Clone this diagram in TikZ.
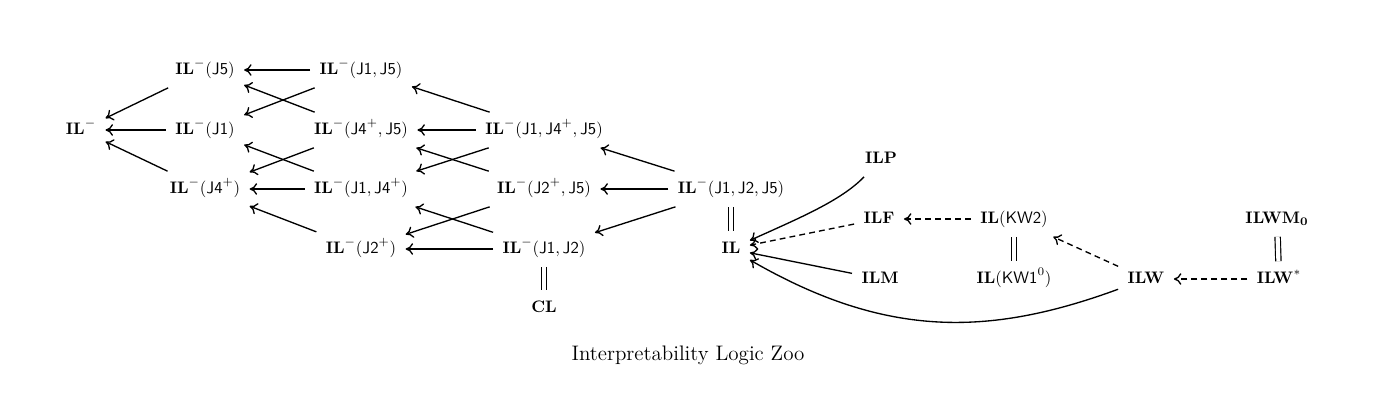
\documentclass[tikz,border=0pt]{standalone}
\usepackage{amsmath}
\usetikzlibrary{arrows.meta}
\begin{document}
\begin{tikzpicture}[x=0.6pt,y=-0.6pt,
  lg/.style={inner sep=5.5pt, text height=7.5pt, text depth=2.5pt},
  imp/.style={-{Computer Modern Rightarrow[length=4.5pt,width=7pt]}, line width=0.8pt},
  dimp/.style={imp, dash pattern=on 3.5pt off 2.5pt},
  eqv/.style={double, double distance=2.5pt, line width=0.7pt}]
\useasboundingbox (0,0) rectangle (1376,408);
% column 0
\node[lg] (m)     at (81,130)  {$\mathbf{IL}^-$};
% column 1
\node[lg] (j5)    at (205,70)  {$\mathbf{IL}^-(\mathsf{J5})$};
\node[lg] (j1)    at (205,130) {$\mathbf{IL}^-(\mathsf{J1})$};
\node[lg] (j4)    at (205,189) {$\mathbf{IL}^-(\mathsf{J4}^+)$};
% column 2
\node[lg] (j15)   at (361,70)  {$\mathbf{IL}^-(\mathsf{J1},\mathsf{J5})$};
\node[lg] (j45)   at (361,130) {$\mathbf{IL}^-(\mathsf{J4}^+,\mathsf{J5})$};
\node[lg] (j14)   at (361,189) {$\mathbf{IL}^-(\mathsf{J1},\mathsf{J4}^+)$};
\node[lg] (j2)    at (361,249) {$\mathbf{IL}^-(\mathsf{J2}^+)$};
% column 3
\node[lg] (j145)  at (544,130) {$\mathbf{IL}^-(\mathsf{J1},\mathsf{J4}^+,\mathsf{J5})$};
\node[lg] (j25)   at (544,189) {$\mathbf{IL}^-(\mathsf{J2}^+,\mathsf{J5})$};
\node[lg] (j12)   at (544,249) {$\mathbf{IL}^-(\mathsf{J1},\mathsf{J2})$};
\node[lg] (cl)    at (544,308) {$\mathbf{CL}$};
% column 4
\node[lg] (j125)  at (731,189) {$\mathbf{IL}^-(\mathsf{J1},\mathsf{J2},\mathsf{J5})$};
\node[lg] (il)    at (731,249) {$\mathbf{IL}$};
% right part
\node[lg] (ilp)   at (881,159) {$\mathbf{ILP}$};
\node[lg] (ilf)   at (879,219) {$\mathbf{ILF}$};
\node[lg] (ilm)   at (880,279) {$\mathbf{ILM}$};
\node[lg] (kw2)   at (1014,219) {$\mathbf{IL}(\mathsf{KW2})$};
\node[lg] (kw1)   at (1014,279) {$\mathbf{IL}(\mathsf{KW1}^0)$};
\node[lg] (ilw)   at (1146,279) {$\mathbf{ILW}$};
\node[lg] (ilws)  at (1279,279) {$\mathbf{ILW}^{*}$};
\node[lg] (ilwm)  at (1277,219) {$\mathbf{ILWM_0}$};
\node (cap) at (688,355) {\fontsize{12.6}{15}\selectfont Interpretability Logic Zoo};
% coordinates for curves
\coordinate (cp1) at (841,201);
\coordinate (cp2) at (797,219);
\coordinate (cw1) at (988,337);
\coordinate (cw2) at (885,338);
% arrows to IL^-
\draw[imp] (j5) -- (m);
\draw[imp] (j1) -- (m);
\draw[imp] (j4) -- (m);
% column 2 -> column 1
\draw[imp] (j15) -- (j5);
\draw[imp] (j15) -- (j1);
\draw[imp] (j45) -- (j5);
\draw[imp] (j45) -- (j4);
\draw[imp] (j14) -- (j1);
\draw[imp] (j14) -- (j4);
\draw[imp] (j2) -- (j4);
% column 3 -> column 2
\draw[imp] (j145) -- (j15);
\draw[imp] (j145) -- (j45);
\draw[imp] (j145) -- (j14);
\draw[imp] (j25) -- (j45);
\draw[imp] (j25) -- (j2);
\draw[imp] (j12) -- (j14);
\draw[imp] (j12) -- (j2);
% column 4 -> column 3
\draw[imp] (j125) -- (j145);
\draw[imp] (j125) -- (j25);
\draw[imp] (j125) -- (j12);
% equivalences
\draw[eqv] (j125) -- (il);
\draw[eqv] (j12) -- (cl);
\draw[eqv] (kw2) -- (kw1);
\draw[eqv] (ilwm) -- (ilws);
% right part
\draw[imp] (ilp) .. controls (cp1) and (cp2) .. (il);
\draw[dimp] (ilf) -- (il);
\draw[imp] (ilm) -- (il);
\draw[imp] (ilw) .. controls (cw1) and (cw2) .. (il);
\draw[dimp] (kw2) -- (ilf);
\draw[dimp] (ilw) -- (kw2);
\draw[dimp] (ilws) -- (ilw);
\end{tikzpicture}
\end{document}
